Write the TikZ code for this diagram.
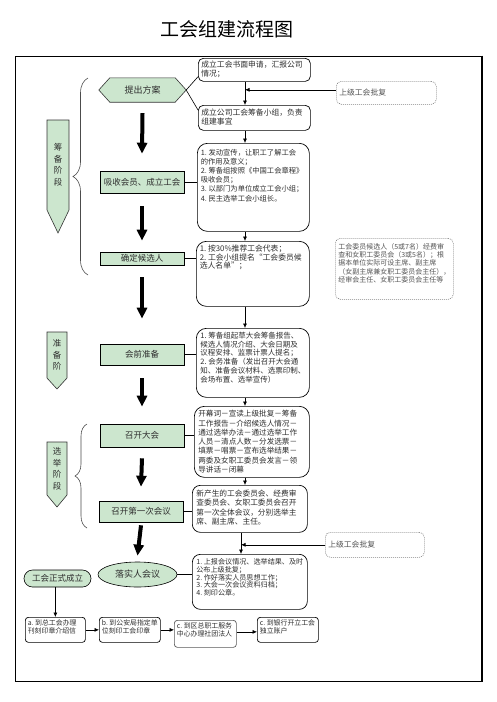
\documentclass[tikz,border=0pt]{standalone}
\usepackage{fontspec}
\setmainfont{Noto Sans CJK SC}
\usetikzlibrary{arrows.meta,decorations.pathreplacing,shapes.geometric}
\definecolor{gfill}{HTML}{CCE6CE}
\definecolor{tgray}{HTML}{2E2E2E}
\definecolor{ngray}{HTML}{555555}
\newcommand\tbx[3]{\parbox[c][#2][t]{#1}{#3}}
\tikzset{
  gbox/.style={draw=black, line width=0.6pt, fill=gfill, text=tgray, minimum width=84pt, inner sep=0pt, font=\fontsize{8.5}{10}\selectfont},
  wbox/.style={draw=black, line width=0.7pt, fill=white, text=tgray, anchor=north west},
  nbox/.style={draw=gray, line width=0.6pt, dash pattern=on 1pt off 1pt, rounded corners=5pt, text=ngray, anchor=north west},
  conn/.style={draw=black, line width=0.6pt},
  tarrow/.style={conn, -{Latex[length=4.5pt,width=4pt]}},
  barrow/.style={draw=black, line width=4pt, -{Triangle[length=11pt,width=10pt]}},
  stage/.style={draw=black!80, line width=0.6pt, fill=gfill},
  stagetext/.style={text=tgray, align=center, font=\fontsize{8.5}{11.5}\selectfont},
  bracestyle/.style={draw=black!70, line width=0.6pt, decorate},
}
\begin{document}
\begin{tikzpicture}[x=1pt,y=-1pt]
\useasboundingbox (0,0) rectangle (496,702);
\fill[white] (0,0) rectangle (496,702);
\node[font=\fontsize{19}{21}\selectfont, text=black] (title) at (227,29.5) {工会组建流程图};
\draw[line width=0.9pt] (15,56) rectangle (482,681);
\draw[line width=1.8pt] (482,55.55) -- (482,681.45);

% helper coordinates for the right column arrows
\coordinate (ax) at (245,0);
\coordinate (ax2) at (241,0);

% stage labels
\draw[stage] (47,120) -- (69,120) -- (69,210) -- (58,233) -- (47,210) -- cycle;
\node[stagetext] (s1) at (58,165) {筹\\备\\阶\\段};
\draw[stage] (47,332) -- (67,332) -- (67,378) -- (57,389) -- (47,378) -- cycle;
\node[stagetext] (s2) at (57,355) {准\\备\\阶};
\draw[stage] (47,442) -- (67,442) -- (67,495) -- (57,507) -- (47,495) -- cycle;
\node[stagetext] (s3) at (57,469) {选\\举\\阶\\段};

% braces
\draw[bracestyle, decoration={brace, amplitude=15pt}] (88,275) -- (88,78);
\draw[bracestyle, decoration={brace, amplitude=12pt}] (87,528) -- (87,424);

% central column
\node[minimum width=87pt, minimum height=24pt, inner sep=0pt] (hex) at (142.5,90) {};
\draw[stage] (hex.west) -- ([xshift=11pt]hex.north west) -- ([xshift=-11pt]hex.north east) -- (hex.east) -- ([xshift=-11pt]hex.south east) -- ([xshift=11pt]hex.south west) -- cycle;
\node[text=tgray, font=\fontsize{9}{10}\selectfont] (hext) at (hex) {提出方案};
\node[gbox, minimum height=22pt] (xs) at (142,182) {吸收会员、成立工会};
\node[gbox, minimum height=13pt] (qd) at (142,258.5) {确定候选人};
\node[gbox, minimum height=21pt] (hq) at (142,354.5) {会前准备};
\node[gbox, minimum height=23pt] (zk) at (142,435.5) {召开大会};
\node[gbox, minimum height=21pt] (dy) at (141,511.5) {召开第一次会议};
\node[gbox, ellipse, minimum width=79pt, minimum height=25pt, font=\fontsize{9}{10}\selectfont] (ls) at (137.5,574.5) {落实人会议};
\node[gbox, rounded corners=8.5pt, minimum width=67pt, minimum height=17pt] (zs) at (57.5,578.5) {工会正式成立};

% black arrows
\draw[barrow] ([yshift=-11pt]hex.south) -- ([yshift=17pt]xs.north);
\draw[barrow] ([yshift=-13pt]xs.south) -- ([yshift=11pt]qd.north);
\draw[barrow] ([yshift=-12pt]qd.south) -- ([yshift=25pt]hq.north);
\draw[barrow] ([yshift=-13pt]hq.south) -- ([yshift=17pt]zk.north);
\draw[barrow] ([yshift=-11pt]zk.south) -- ([yshift=14pt]dy.north);
\draw[barrow] ([yshift=-3pt]dy.south) -- ([yshift=6pt]ls.north);

% right column boxes
\node[wbox, rounded corners=5pt, inner xsep=3pt, inner ysep=2.5pt, font=\fontsize{7.8}{9}\selectfont] (b1) at (198,58)
  {\tbx{106pt}{18pt}{成立工会书面申请，汇报公司\\情况；}};
\node[wbox, rounded corners=5pt, inner xsep=3pt, inner ysep=3.5pt, font=\fontsize{7.8}{9}\selectfont] (b2) at (198,105)
  {\tbx{106pt}{18pt}{成立公司工会筹备小组，负责\\组建事宜}};
\node[wbox, rounded corners=10pt, inner xsep=3.5pt, inner ysep=5.5pt, font=\fontsize{7.3}{9.2}\selectfont] (b3) at (197,143)
  {\tbx{105pt}{77pt}{1.~发动宣传，让职工了解工会\\的作用及意义；\\2.~筹备组按照《中国工会章程》\\吸收会员；\\3.~以部门为单位成立工会小组；\\4.~民主选举工会小组长。}};
\node[wbox, rounded corners=10pt, inner xsep=3.5pt, inner ysep=3.5pt, font=\fontsize{7.8}{8.6}\selectfont] (b4) at (196,241)
  {\tbx{106pt}{58pt}{1.~按30\%推荐工会代表；\\2.~工会小组提名“工会委员候\\选人名单”；}};
\node[wbox, rounded corners=10pt, inner xsep=4pt, inner ysep=3.5pt, font=\fontsize{7.5}{8.9}\selectfont] (b5) at (196,328)
  {\tbx{105pt}{62pt}{1.~筹备组起草大会筹备报告、\\候选人情况介绍、大会日期及\\议程安排、监票计票人提名；\\2.~会务准备（发出召开大会通\\知、准备会议材料、选票印制、\\会场布置、选举宣传）}};
\node[wbox, rounded corners=10pt, inner xsep=4pt, inner ysep=4pt, font=\fontsize{7.6}{9.3}\selectfont] (b6) at (194,406)
  {\tbx{107pt}{63pt}{开幕词－宣读上级批复－筹备\\工作报告－介绍候选人情况－\\通过选举办法－通过选举工作\\人员－清点人数－分发选票－\\填票－唱票－宣布选举结果－\\两委及女职工委员会发言－领\\导讲话－闭幕}};
\node[wbox, rounded corners=8pt, inner xsep=4pt, inner ysep=4.5pt, font=\fontsize{7.7}{9.5}\selectfont] (b7) at (192,485)
  {\tbx{107pt}{38pt}{新产生的工会委员会、经费审\\查委员会、女职工委员会召开\\第一次全体会议，分别选举主\\席、副主席、主任。}};
\node[wbox, rounded corners=8pt, inner xsep=4pt, inner ysep=4.5pt, font=\fontsize{7.1}{7.7}\selectfont] (b8) at (192,554)
  {\tbx{107pt}{46pt}{1.~上报会议情况、选举结果、及时\\公布上级批复；\\2.~作好落实人员思想工作；\\3.~大会一次会议资料归档；\\4.~刻印公章。}};

% dashed notes
\node[nbox, inner xsep=3pt, inner ysep=3pt, font=\fontsize{7.8}{9}\selectfont] (n1) at (336,81)
  {\parbox[c][17pt][c]{94pt}{上级工会批复}};
\node[nbox, inner xsep=3pt, inner ysep=5pt, font=\fontsize{7}{8.3}\selectfont] (n2) at (335,238)
  {\tbx{112pt}{51pt}{工会委员候选人（5或7名）经费审\\查和女职工委员会（3或5名）；根\\据本单位实际可设主席、副主席\\（女副主席兼女职工委员会主任），\\经审会主任、女职工委员会主任等}};
\node[nbox, inner xsep=3pt, inner ysep=3pt, font=\fontsize{7.8}{9}\selectfont] (n3) at (325,532)
  {\parbox[c][19pt][c]{93pt}{上级工会批复}};

% bottom boxes
\node[wbox, rounded corners=3pt, inner xsep=2.5pt, inner ysep=2.5pt, font=\fontsize{6.9}{8}\selectfont] (ba) at (25,617)
  {\tbx{55pt}{20pt}{a.~到总工会办理\\刊刻印章介绍信}};
\node[wbox, rounded corners=3pt, inner xsep=2.5pt, inner ysep=2.5pt, font=\fontsize{6.9}{8}\selectfont] (bb) at (99,617)
  {\tbx{56pt}{20pt}{b.~到公安局指定单\\位刻印工会印章}};
\node[wbox, draw=black!65, rounded corners=3pt, inner xsep=2.5pt, inner ysep=2.5pt, font=\fontsize{6.9}{8}\selectfont] (bc) at (174,620)
  {\tbx{57pt}{22pt}{c.~到区总职工服务\\中心办理社团法人}};
\node[wbox, rounded corners=3pt, inner xsep=2.5pt, inner ysep=2.5pt, font=\fontsize{6.9}{8}\selectfont] (bd) at (257,617)
  {\tbx{56pt}{20pt}{c.~到银行开立工会\\独立账户}};

% thin connectors
\draw[conn] (hex.east) -- ([yshift=5pt]b1.south west);
\draw[conn] (hex.east) -- ([yshift=-5pt]b2.north west);
\draw[tarrow] (b1.south -| ax) -- (b2.north -| ax);
\draw[tarrow] ([yshift=3pt]n1.west) -- ([yshift=3pt]n1.west -| ax);
\draw[tarrow] (b2.south -| ax) -- (b3.north -| ax);
\draw[tarrow] (b3.south -| ax) -- (b4.north -| ax);
\draw[tarrow] (b4.south -| ax) -- (b5.north -| ax);
\draw[tarrow] (b5.south -| ax) -- (b6.north -| ax);
\draw[tarrow] (b6.south -| ax) -- (b7.north -| ax);
\draw[tarrow] (b7.south -| ax2) -- (b8.north -| ax2);
\draw[tarrow] (n3.west) -- (n3.west -| ax2);

\draw[conn] (xs.east) -- (xs.east -| b3.west);
\draw[conn] (qd.east) -- (qd.east -| b4.west);
\draw[conn] (hq.east) -- (hq.east -| b5.west);
\draw[conn] (zk.east) -- (zk.east -| b6.west);
\draw[conn] (dy.east) -- (dy.east -| b7.west);
\draw[conn] (ls.east) -- (ls.east -| b8.west);

\draw[tarrow] (zs.south -| ba.north) -- (ba.north);
\draw[tarrow] (ba.east) -- (bb.west);
\draw[tarrow] (bb.east) -- (bb.east -| bc.west);
\draw[tarrow] ([yshift=2pt]bc.east) -- ([yshift=2pt]bc.east -| bd.west);
\end{tikzpicture}
\end{document}
